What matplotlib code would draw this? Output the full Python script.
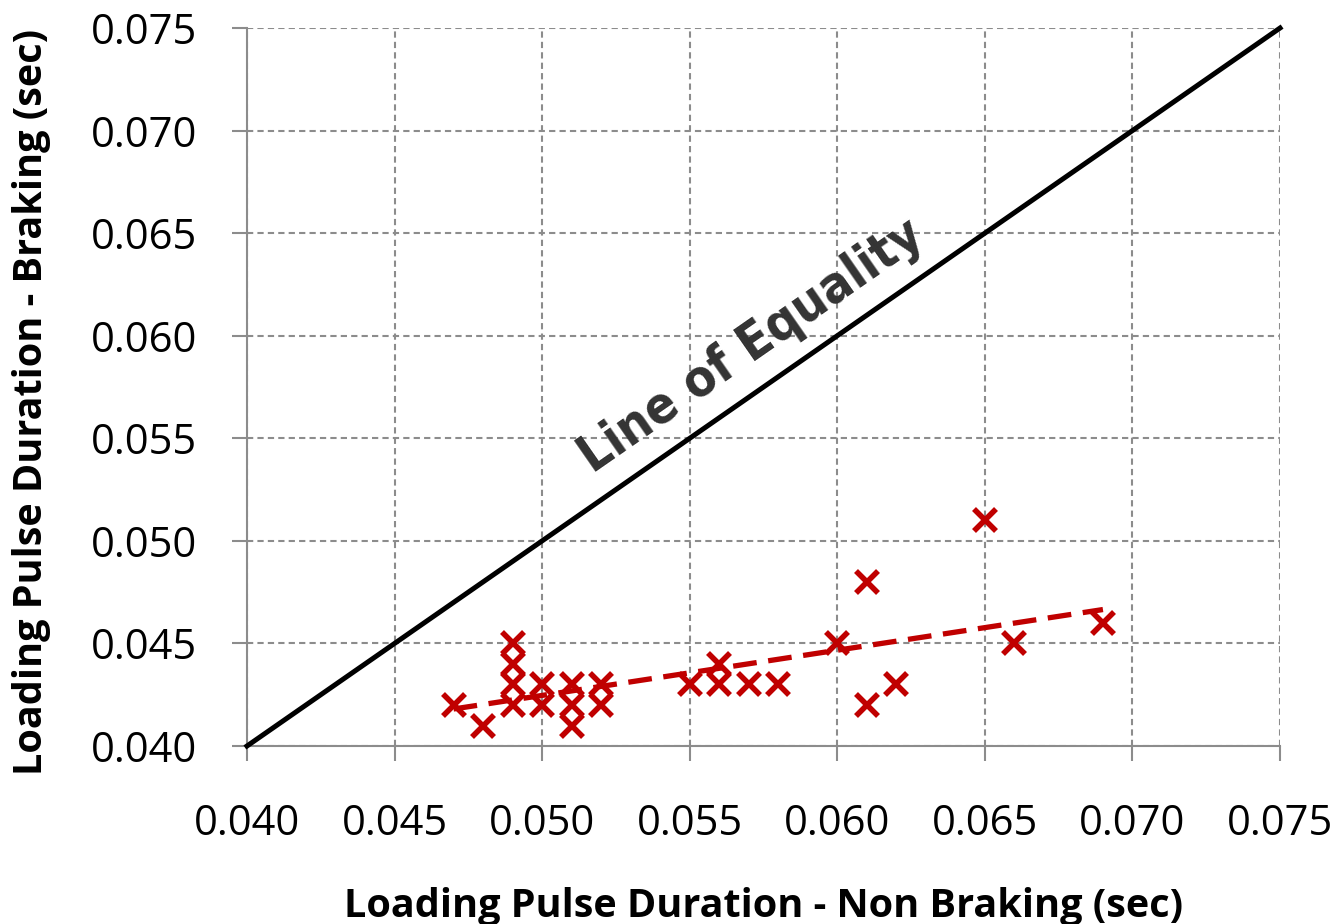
import matplotlib

matplotlib.use("Agg")
import matplotlib.pyplot as plt
import numpy as np

# measured pulse durations (sec)
non_braking = [0.047, 0.048,
               0.049, 0.049, 0.049, 0.049,
               0.050, 0.050,
               0.051, 0.051, 0.051,
               0.052, 0.052,
               0.055, 0.056, 0.056, 0.057, 0.058,
               0.060, 0.061, 0.061, 0.062,
               0.065, 0.066, 0.069]
braking = [0.042, 0.041,
           0.045, 0.044, 0.043, 0.042,
           0.043, 0.042,
           0.043, 0.042, 0.041,
           0.043, 0.042,
           0.043, 0.044, 0.043, 0.043, 0.043,
           0.045, 0.048, 0.042, 0.043,
           0.051, 0.045, 0.046]

equality = [0.040, 0.075]
ticks = [0.040, 0.045, 0.050, 0.055, 0.060, 0.065, 0.070, 0.075]

red = "#C00000"
grey = "#8c8c8c"

fig = plt.figure(figsize=(13.37, 9.24), dpi=100)
ax = fig.add_axes([0.1847, 0.1926, 0.7727, 0.7771])

ax.plot(equality, equality, color="black", lw=3.6, zorder=3, clip_on=False)

ax.plot(non_braking, braking, linestyle="none", marker="x", ms=16, mew=4,
        color=red, zorder=4)

# linear trendline over the data range
x = np.array(non_braking)
slope, intercept = np.polyfit(x, braking, 1)
xs = np.array([x.min(), x.max()])
ax.plot(xs, slope * xs + intercept, color=red, lw=3.8, dashes=(4.5, 2.2), zorder=4)

ax.text(0.0571, 0.0595, "Line of Equality", rotation=34.8, ha="center", va="center",
        fontsize=37, fontweight="bold", color="#333333",
        family="DejaVu Sans", fontstretch="condensed")

ax.set_xlim(0.040, 0.075)
ax.set_ylim(0.040, 0.075)
ax.set_xticks(ticks)
ax.set_yticks(ticks)
ax.set_xticklabels([f"{t:.3f}" for t in ticks], family="Open Sans", fontsize=30)
ax.set_yticklabels([f"{t:.3f}" for t in ticks], family="Open Sans", fontsize=30)
ax.tick_params(axis="both", direction="out", length=11, width=1.5, color=grey)
ax.tick_params(axis="x", pad=30)
ax.tick_params(axis="y", pad=25)

ax.grid(True, linestyle=(0, (3, 2)), color=grey, lw=1.5)
ax.set_axisbelow(True)
for side in ("top", "right"):
    ax.spines[side].set_visible(False)
for side in ("left", "bottom"):
    ax.spines[side].set_color(grey)
    ax.spines[side].set_linewidth(1.5)

ax.set_xlabel("Loading Pulse Duration - Non Braking (sec)", family="Open Sans",
              fontsize=28.5, fontweight="bold", labelpad=30)
ax.set_ylabel("Loading Pulse Duration - Braking (sec)", family="Open Sans",
              fontsize=28.5, fontweight="bold")
ax.yaxis.set_label_coords(-0.19, 0.479)

fig.savefig("out.png", dpi=100)
